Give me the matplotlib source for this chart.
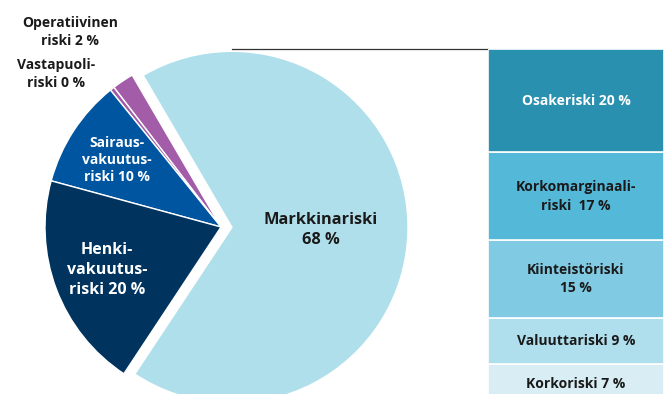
import numpy as np
import matplotlib.pyplot as plt

plt.rcParams['font.family'] = ['Open Sans', 'DejaVu Sans']
plt.rcParams['font.weight'] = 'bold'

# riskijakauma (piirakka)
pie_labels = ["Markkinariski\n68 %", "Operatiivinen\nriski 2 %", "Vastapuoli-\nriski 0 %",
              "Sairaus-\nvakuutus-\nriski 10 %", "Henki-\nvakuutus-\nriski 20 %"]
pie_values = [68, 2, 0.4, 10, 20]
pie_colors = ["#b0dfec", "#a25ca8", "#a25ca8", "#0055a0", "#00345f"]

# markkinariskin erittely (pino)
bar_labels = ["Korkoriski 7 %", "Valuuttariski 9 %", "Kiinteistöriski\n15 %",
              "Korkomarginaali-\nriski  17 %", "Osakeriski 20 %"]
bar_values = [7, 9, 15, 17, 20]
bar_colors = ["#d9edf4", "#afdeed", "#80cbe3", "#54b8d9", "#2990b0"]

W, H = 667, 394
fig = plt.figure(figsize=(W / 100, H / 100), dpi=100)
ax = fig.add_axes([0, 0, 1, 1])

cx, cy, r = 221, H - 227, 176
ax.pie(pie_values, colors=pie_colors, startangle=-123.5, counterclock=True,
       center=(cx, cy), radius=r, explode=[11, 0, 0, 0, 0], frame=True,
       wedgeprops=dict(edgecolor="white", linewidth=1.0))
ax.set_xlim(0, W)
ax.set_ylim(0, H)
ax.set_aspect('auto')
ax.axis('off')

# tekstit piirakan sisällä ja vieressä
ax.text(321, H - 230, pie_labels[0], ha='center', va='center', fontsize=11.8,
        color='#1a1a1a', linespacing=1.3)
ax.text(107, H - 270, pie_labels[4], ha='center', va='center', fontsize=11.5,
        color='white', linespacing=1.3)
ax.text(117, H - 160, pie_labels[3], ha='center', va='center', fontsize=10,
        color='white', linespacing=1.3)
ax.text(70, H - 32, pie_labels[1], ha='center', va='center', fontsize=10,
        color='#1a1a1a', linespacing=1.3)
ax.text(56, H - 74, pie_labels[2], ha='center', va='center', fontsize=10,
        color='#1a1a1a', linespacing=1.3)

# yhdysviiva piirakasta pinoon
ax.plot([232, 488], [H - 49, H - 49], color='#333333', lw=0.9)

# pinottu pylväs oikealla
bax = fig.add_axes([488 / W, (H - 400.5) / H, 176 / W, 351.5 / H])
bottoms = np.concatenate([[0], np.cumsum(bar_values)[:-1]])
bax.bar(0, bar_values, bottom=bottoms, width=1, color=bar_colors,
        edgecolor='white', linewidth=1.2)
bax.set_xlim(-0.5, 0.5)
bax.set_ylim(0, sum(bar_values))
bax.axis('off')
for lab, b, v, c in zip(bar_labels, bottoms, bar_values, bar_colors):
    tc = 'white' if c == "#2990b0" else '#1a1a1a'
    y = b + v / 2
    if lab.startswith("Korkoriski"):
        # alin lohko jää osin kuvan ulkopuolelle
        y = b + v * 0.45
    bax.text(0, y, lab, ha='center', va='center', fontsize=10,
             color=tc, linespacing=1.4)

fig.savefig('out.png', dpi=100)
